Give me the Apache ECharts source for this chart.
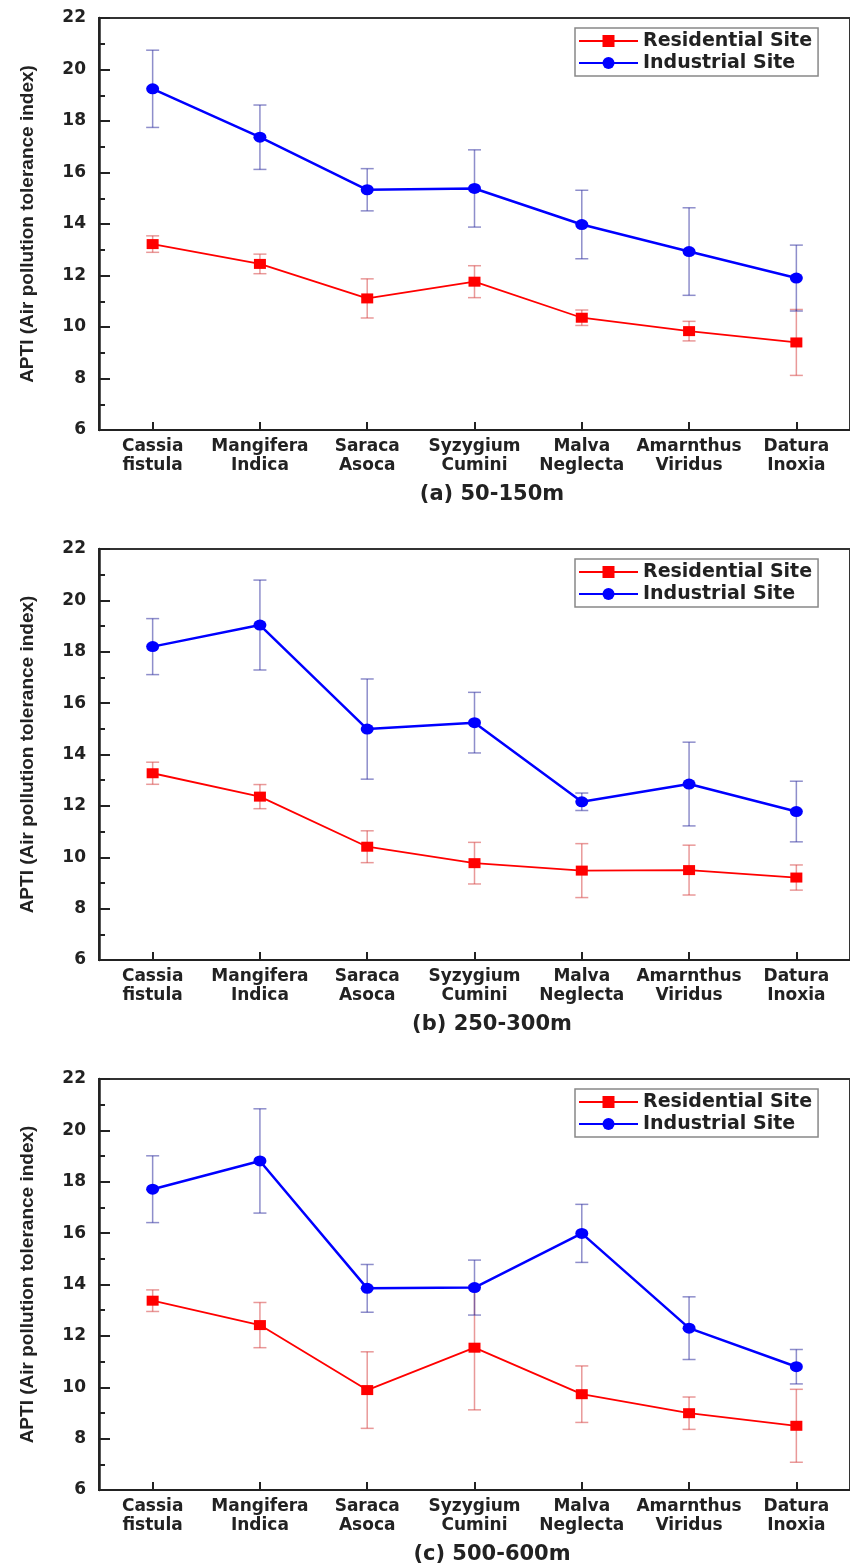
<!DOCTYPE html>
<html>
<head>
<meta charset="utf-8">
<script src="https://cdn.jsdelivr.net/npm/echarts@6/dist/echarts.min.js"></script>
<style>html,body{margin:0;padding:0;background:#fff;}#c{width:850px;height:1567px;}</style>
</head>
<body>
<div id="c"></div>
<script>
const categories = ['Cassia\nfistula','Mangifera\nIndica','Saraca\nAsoca','Syzygium\nCumini','Malva\nNeglecta','Amarnthus\nViridus','Datura\nInoxia'];
const seriesNames = ['Residential Site','Industrial Site'];
const captions = ['(a) 50-150m','(b) 250-300m','(c) 500-600m'];
const yAxisName = 'APTI (Air pollution tolerance index)';

// Panel (a) 50-150m
const resA    = [13.22, 12.45, 11.11, 11.76, 10.36, 9.84, 9.40];
const resAErr = [0.32, 0.38, 0.76, 0.62, 0.30, 0.38, 1.28];
const indA    = [19.25, 17.37, 15.33, 15.38, 13.98, 12.93, 11.90];
const indAErr = [1.50, 1.25, 0.82, 1.50, 1.33, 1.70, 1.28];
// Panel (b) 250-300m
const resB    = [13.27, 12.36, 10.41, 9.77, 9.48, 9.50, 9.21];
const resBErr = [0.43, 0.47, 0.62, 0.81, 1.05, 0.97, 0.49];
const indB    = [18.20, 19.04, 14.99, 15.24, 12.16, 12.85, 11.78];
const indBErr = [1.09, 1.75, 1.95, 1.18, 0.34, 1.63, 1.18];
// Panel (c) 500-600m
const resC    = [13.37, 12.42, 9.89, 11.54, 9.73, 8.99, 8.50];
const resCErr = [0.42, 0.88, 1.49, 2.42, 1.10, 0.63, 1.42];
const indC    = [17.71, 18.81, 13.85, 13.88, 15.99, 12.30, 10.80];
const indCErr = [1.30, 2.03, 0.93, 1.07, 1.13, 1.22, 0.67];

const yMin = 6, yMax = 22, yInterval = 2;

const panels = [
  {res: resA, resErr: resAErr, ind: indA, indErr: indAErr},
  {res: resB, resErr: resBErr, ind: indB, indErr: indBErr},
  {res: resC, resErr: resCErr, ind: indC, indErr: indCErr}
];
const gridTops = [18, 549, 1079];
const gridHeights = [412, 411, 411];

const RED = '#ff0000', BLUE = '#0000ff';
const RED_ERR = 'rgba(215,70,70,0.55)', BLUE_ERR = 'rgba(50,50,160,0.55)';
const FONT = 'DejaVu Sans';

function errRender(color) {
  return function (params, api) {
    const x = api.value(0);
    const top = api.coord([x, api.value(2)]);
    const bot = api.coord([x, api.value(1)]);
    const hw = 6.5;
    const st = {stroke: color, lineWidth: 1.5};
    return {type: 'group', children: [
      {type: 'line', shape: {x1: top[0], y1: top[1], x2: bot[0], y2: bot[1]}, style: st},
      {type: 'line', shape: {x1: top[0]-hw, y1: top[1], x2: top[0]+hw, y2: top[1]}, style: st},
      {type: 'line', shape: {x1: bot[0]-hw, y1: bot[1], x2: bot[0]+hw, y2: bot[1]}, style: st}
    ]};
  };
}
function errData(vals, errs) {
  return vals.map((v, i) => [i, v - errs[i], v + errs[i]]);
}

const grid = [], xAxis = [], yAxis = [], series = [], legend = [], title = [];
panels.forEach((p, k) => {
  grid.push({left: 99, top: gridTops[k], width: 761, height: gridHeights[k],
    show: true, borderColor: '#333', borderWidth: 2, backgroundColor: 'transparent'});
  xAxis.push({type: 'category', gridIndex: k, data: categories, boundaryGap: true,
    axisLine: {show: true, lineStyle: {color: '#222', width: 2}},
    axisTick: {show: true, inside: true, alignWithLabel: true, length: 8, lineStyle: {color: '#222', width: 2}},
    axisLabel: {fontFamily: FONT, fontWeight: 'bold', fontSize: 17, color: '#222', lineHeight: 19, margin: 7, interval: 0},
    splitLine: {show: false}});
  yAxis.push({type: 'value', gridIndex: k, min: yMin, max: yMax, interval: yInterval,
    name: yAxisName, nameLocation: 'middle', nameRotate: 90, nameGap: 62,
    nameTextStyle: {fontFamily: 'Liberation Sans', fontWeight: 'bold', fontSize: 19, color: '#222'},
    axisLine: {show: true, lineStyle: {color: '#222', width: 2.5}},
    axisTick: {show: true, inside: true, length: 11, lineStyle: {color: '#222', width: 2}},
    minorTick: {show: true, splitNumber: 2, length: 6, lineStyle: {color: '#222', width: 2}},
    axisLabel: {fontFamily: FONT, fontWeight: 'bold', fontSize: 17, color: '#222', margin: 13},
    splitLine: {show: false}});
  series.push({type: 'line', name: seriesNames[0], xAxisIndex: k, yAxisIndex: k, z: 3,
    data: p.res, symbol: 'rect', symbolSize: [12, 10], showAllSymbol: true,
    lineStyle: {color: RED, width: 1.8}, itemStyle: {color: RED}});
  series.push({type: 'line', name: seriesNames[1], xAxisIndex: k, yAxisIndex: k, z: 4,
    data: p.ind, symbol: 'circle', symbolSize: [13, 11], showAllSymbol: true,
    lineStyle: {color: BLUE, width: 2.5}, itemStyle: {color: BLUE}});
  series.push({type: 'custom', name: seriesNames[0] + ' error', xAxisIndex: k, yAxisIndex: k, z: 1,
    renderItem: errRender(RED_ERR), data: errData(p.res, p.resErr), encode: {x: 0, y: [1, 2]}, silent: true});
  series.push({type: 'custom', name: seriesNames[1] + ' error', xAxisIndex: k, yAxisIndex: k, z: 1,
    renderItem: errRender(BLUE_ERR), data: errData(p.ind, p.indErr), encode: {x: 0, y: [1, 2]}, silent: true});
  legend.push({data: seriesNames,
    orient: 'vertical', left: 575, top: gridTops[k] + 10,
    itemWidth: 59, itemHeight: 15, itemGap: 0, padding: [2, 6, 2, 3],
    borderColor: '#888', borderWidth: 1.5, backgroundColor: '#fff',
    textStyle: {fontFamily: FONT, fontWeight: 'bold', fontSize: 19, lineHeight: 22, color: '#222'}});
  title.push({text: captions[k], left: 492, textAlign: 'center', top: gridTops[k] + gridHeights[k] + 54, padding: 0,
    textStyle: {fontFamily: FONT, fontWeight: 'bold', fontSize: 21, color: '#222'}});
});

const chart = echarts.init(document.getElementById('c'), null, {renderer: 'canvas'});
chart.setOption({
  animation: false,
  backgroundColor: '#fff',
  title: title,
  legend: legend,
  grid: grid,
  xAxis: xAxis,
  yAxis: yAxis,
  series: series
});
</script>
</body>
</html>
